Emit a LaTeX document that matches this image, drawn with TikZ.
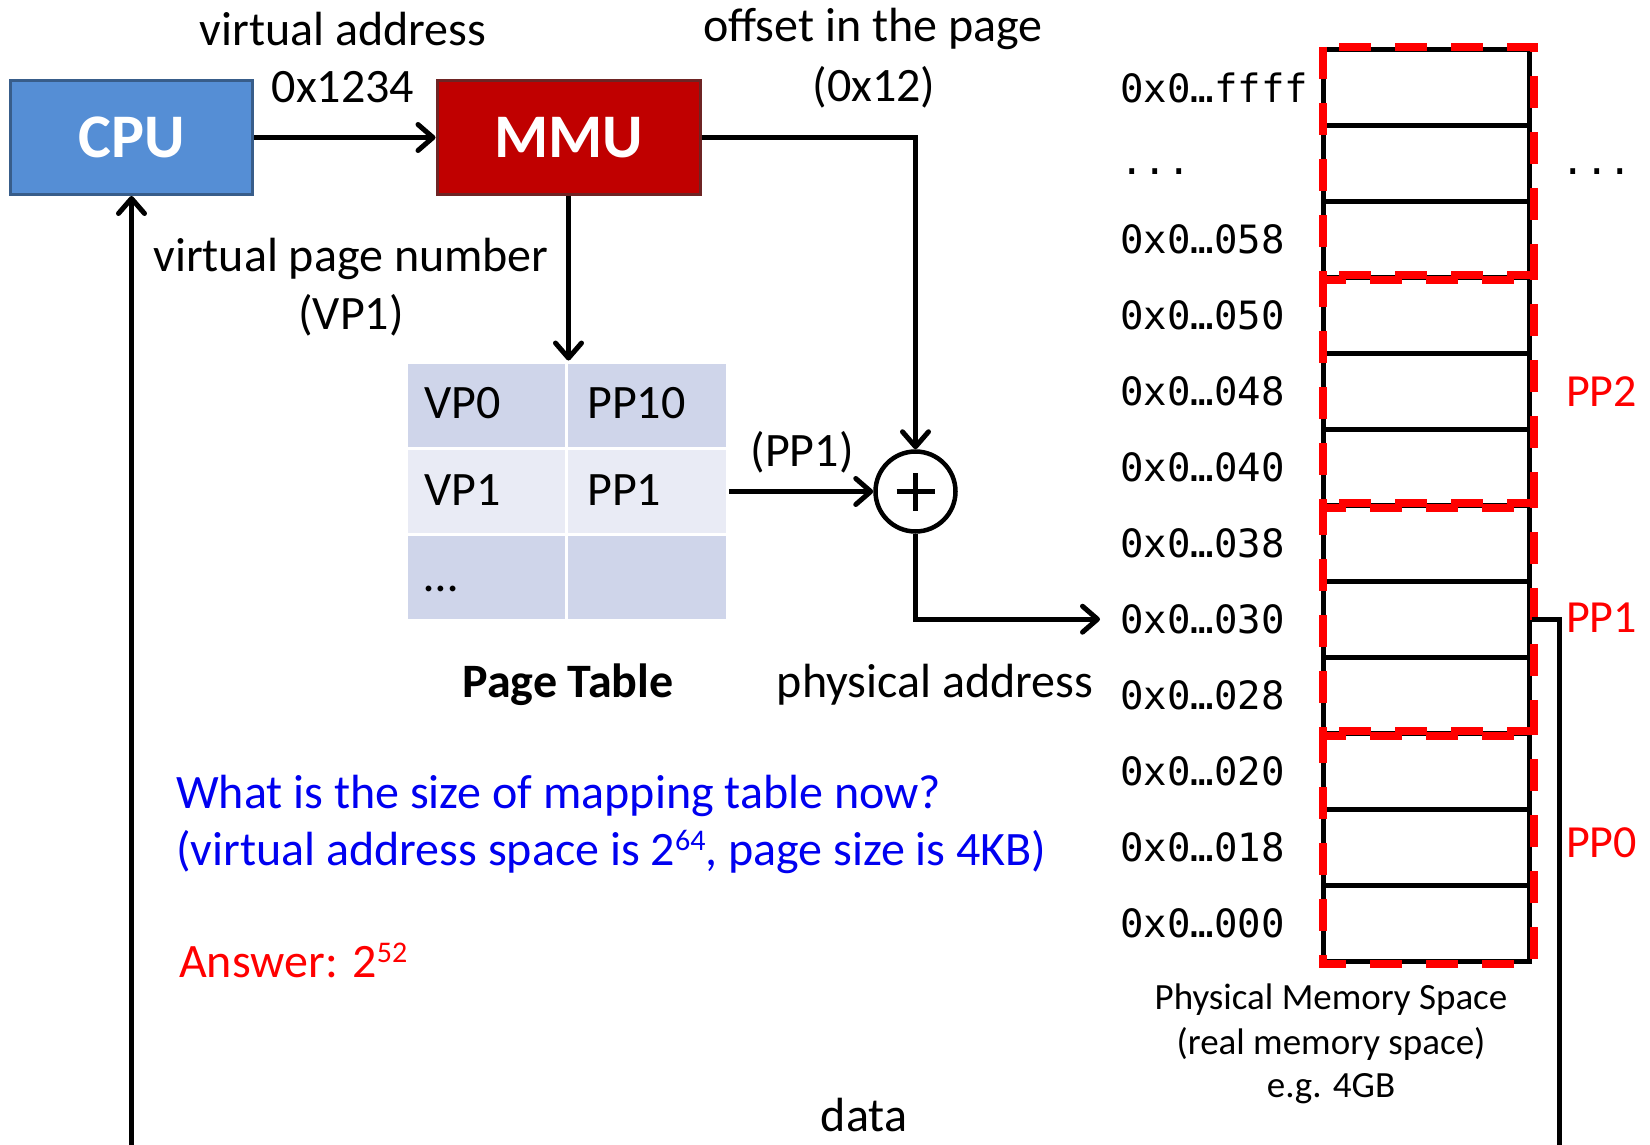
\documentclass[tikz,border=0pt]{standalone}
\usepackage{fontspec}
\setmainfont{Carlito}
\newfontfamily\addrfont{DejaVu Sans Mono}
\usetikzlibrary{arrows.meta}
\definecolor{cpublue}{RGB}{85,142,213}
\definecolor{cpuedge}{RGB}{56,93,138}
\definecolor{mmured}{RGB}{192,0,0}
\definecolor{mmuedge}{RGB}{110,36,36}
\definecolor{rowdark}{RGB}{207,213,234}
\definecolor{rowlight}{RGB}{233,235,245}
\definecolor{qblue}{RGB}{0,0,240}
\definecolor{pagered}{RGB}{255,0,0}
\newcommand\tripledot{...}
\newcommand\pow[1]{\raisebox{15pt}{\fontsize{30}{30}\selectfont #1}}
\begin{document}
\begin{tikzpicture}[x=1pt,y=-1pt,
  txt/.style={font=\fontsize{48}{56}\selectfont, inner sep=0pt},
  small/.style={font=\fontsize{37}{44}\selectfont, inner sep=0pt},
  unit/.style={draw=#1, line width=3pt, minimum height=114pt, inner sep=0pt,
    text=white, font=\fontsize{62}{70}\selectfont\bfseries},
  conn/.style={line width=5pt, -{Straight Barb[length=15pt,width=26pt,round]}},
  wire/.style={line width=5pt},
  cell/.style={fill=#1, draw=white, line width=3pt, minimum width=161pt,
    minimum height=86.3pt, inner sep=0pt},
  celltext/.style={txt, anchor=west},
  memrow/.style={draw=black, line width=5pt, minimum width=206pt,
    minimum height=75.96pt, inner sep=0pt},
  addr/.style={font=\addrfont\fontsize{39}{46}\selectfont, inner sep=0pt, anchor=west},
  pagebox/.style={draw=pagered, line width=8pt, dash pattern=on 32pt off 24pt},
  pplbl/.style={txt, font=\fontsize{46}{52}\selectfont, text=pagered, anchor=west}]

% canvas
\fill[white] (0,0) rectangle (1650,1145);
\useasboundingbox (0,0) rectangle (1650,1145);

% CPU and MMU
\node[unit=cpuedge, fill=cpublue, minimum width=242pt] (cpu) at (131.5,137.5) {CPU};
\node[unit=mmuedge, fill=mmured, minimum width=263pt] (mmu) at (568.5,137.5) {MMU};
\draw[conn] (cpu.east) -- (mmu.west);
\node[txt] (va) at (343,29) {virtual address};
\node[txt] (vaval) at (343,87) {0x1234};
\node[txt] (off) at (873,29) {offset in the page};
\node[txt] (offval) at (874,87) {(0x12)};
\node[txt] (vpn) at (351,259) {virtual page number};
\node[txt] (vpnval) at (351,315) {(VP1)};

% page table
\node[cell=rowdark]  (t11) at (486.5,405.2) {};
\node[cell=rowdark]  (t12) at (647,405.2) {};
\node[cell=rowlight] (t21) at (486.5,491.5) {};
\node[cell=rowlight] (t22) at (647,491.5) {};
\node[cell=rowdark]  (t31) at (486.5,577.8) {};
\node[cell=rowdark]  (t32) at (647,577.8) {};
\node[celltext] (vp0) at (424,403) {VP0};
\node[celltext] (pp10) at (587,403) {PP10};
\node[celltext] (vp1) at (424,490) {VP1};
\node[celltext] (pp1t) at (587,490) {PP1};
\node[celltext] (more) at (424,589) {…};
\node[txt, font=\fontsize{48}{56}\selectfont\bfseries] (ptitle) at (568,685) {Page Table};

\draw[conn] (mmu.south) -- (mmu.south |- t11.north);

% adder
\node[circle, draw, line width=4.5pt, minimum size=80pt, inner sep=0pt] (plus) at (915.5,491.5) {};
\draw[line width=5pt] ([xshift=-19pt]plus.center) -- ([xshift=19pt]plus.center);
\draw[line width=5pt] ([yshift=-19pt]plus.center) -- ([yshift=19pt]plus.center);
\draw[conn] (mmu.east) -| (plus.north);
\draw[conn] (t22.east) -- (plus.west);
\node[txt] (ppsel) at (802,452) {(PP1)};
\node[txt] (pa) at (935,685) {physical address};

% physical memory
\foreach \i in {0,...,11}
  \node[memrow] (m\i) at (1426,{49.5+75.96*(\i+0.5)}) {};
\foreach \i/\t in {0/0x0…ffff,2/0x0…058,3/0x0…050,4/0x0…048,5/0x0…040,
                   6/0x0…038,7/0x0…030,8/0x0…028,9/0x0…020,10/0x0…018,11/0x0…000}
  \node[addr] (a\i) at (1120,{49.5+75.96*(\i+0.5)}) {\t};
\node[addr] (a1) at (1120,172) {\tripledot};
\node[addr, anchor=center] (rdots) at (1597,172) {\tripledot};
\foreach \a/\b in {0/2,3/5,6/8,9/11}
  \draw[pagebox] ([xshift=2.5pt]m\a.north west) rectangle ([xshift=2.5pt]m\b.south east);
\node[pplbl] (pp2) at (1566,392) {PP2};
\node[pplbl] (pp1) at (1566,618) {PP1};
\node[pplbl] (pp0) at (1566,843) {PP0};

\draw[conn] (plus.south) |- ([xshift=-20pt]a7.west);

\node[small] (pms1) at (1331,1000) {Physical Memory Space};
\node[small] (pms2) at (1331,1044) {(real memory space)};
\node[small] (pms3) at (1331,1089) {e.g. 4GB};

% data return path
\coordinate (cpuin) at (131.5,1145);
\coordinate (memout) at (1559.5,1145);
\draw[conn] (cpuin) -- (cpu.south);
\draw[wire] (m7.east) -| (memout);
\node[txt] (data) at (864,1115) {data};

% question
\node[txt, anchor=west, text=qblue] (q1) at (176,796) {What is the size of mapping table now?};
\node[txt, anchor=west, text=qblue] (q2) at (176,852) {(virtual address space is 2\pow{64}, page size is 4KB)};
\node[txt, anchor=west, text=pagered] (ans) at (179,960) {Answer: 2\pow{52}};
\end{tikzpicture}
\end{document}
